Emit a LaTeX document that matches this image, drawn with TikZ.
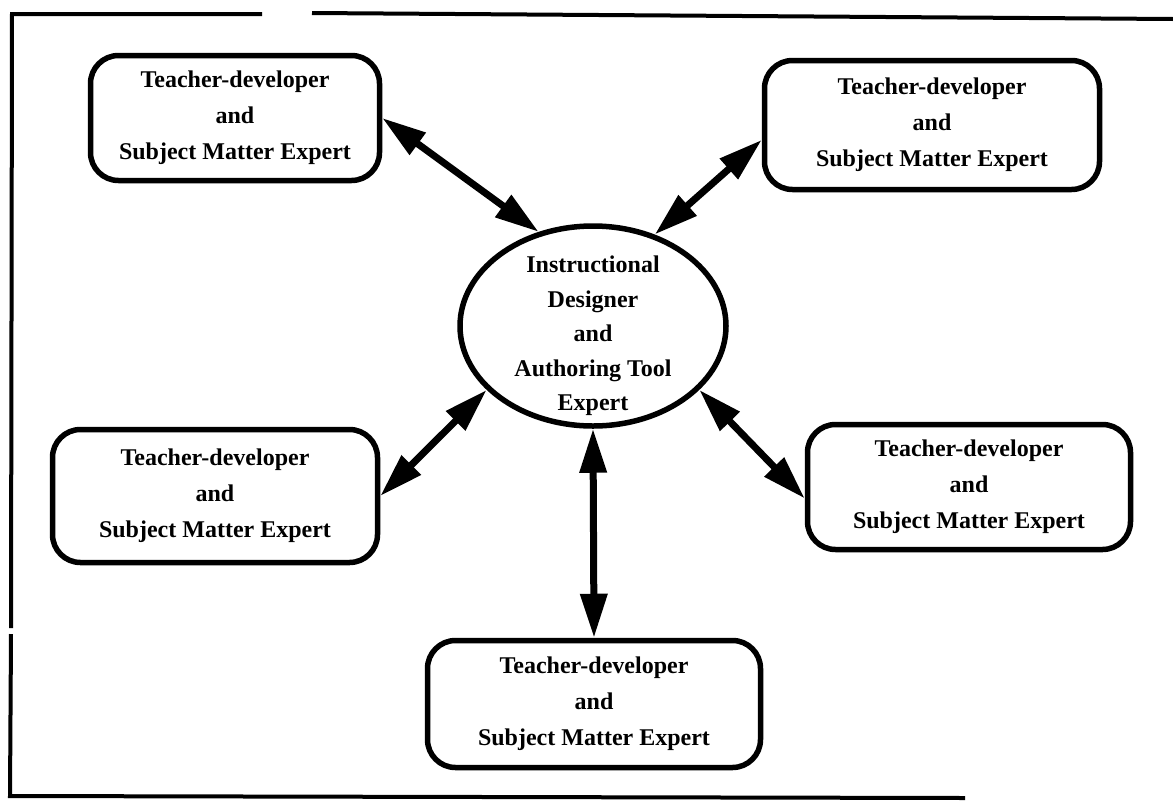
\documentclass[tikz,border=0pt]{standalone}
\usepackage{fontspec}
\setmainfont{Liberation Serif}
\usetikzlibrary{shapes.geometric,arrows.meta}
\begin{document}
\begin{tikzpicture}[x=1pt,y=-1pt,
  txt/.style={align=center, font=\bfseries\fontsize{24}{36}\selectfont},
  box/.style={txt, draw, line width=5.5pt, rounded corners=28pt, inner sep=0pt},
  hub/.style={draw, ellipse, line width=5.5pt, minimum width=266pt, minimum height=200pt, inner sep=0pt},
  link/.style={line width=7pt, {Triangle[length=44pt,width=26pt]}-{Triangle[length=44pt,width=26pt]}},
  frameline/.style={line width=4pt}]
\useasboundingbox (0,0) rectangle (1173,801);
% frame
\draw[frameline] (262,14) -- (12,14) -- (11,628);
\draw[frameline] (11,634) -- (10,796) -- (965,798);
\draw[frameline] (312,13) -- (1173,19);
% nodes
\node[hub] (E) at (593,326) {};
\node[txt, font=\bfseries\fontsize{24}{34.5}\selectfont] (Et) at (593,336) {Instructional\\Designer\\and\\Authoring Tool\\Expert};
\node[box, minimum width=289pt, minimum height=125pt] (TL) at (235,118) {Teacher-developer\\and\\Subject Matter Expert};
\node[box, minimum width=335pt, minimum height=129pt] (TR) at (932,125) {Teacher-developer\\and\\Subject Matter Expert};
\node[box, minimum width=325pt, minimum height=133pt] (ML) at (215,496) {Teacher-developer\\and\\Subject Matter Expert};
\node[box, minimum width=323pt, minimum height=125pt] (MR) at (969,487) {Teacher-developer\\and\\Subject Matter Expert};
\node[box, minimum width=333pt, minimum height=127pt] (B) at (594,704) {Teacher-developer\\and\\Subject Matter Expert};
% connectors
\draw[link] (TL.east) -- (E.120);
\draw[link] (TR.185) -- (E.56);
\draw[link] (ML.east) -- (E.211);
\draw[link] (MR.184) -- (E.329);
\draw[link] (B.north) -- (E.south);
\end{tikzpicture}
\end{document}
